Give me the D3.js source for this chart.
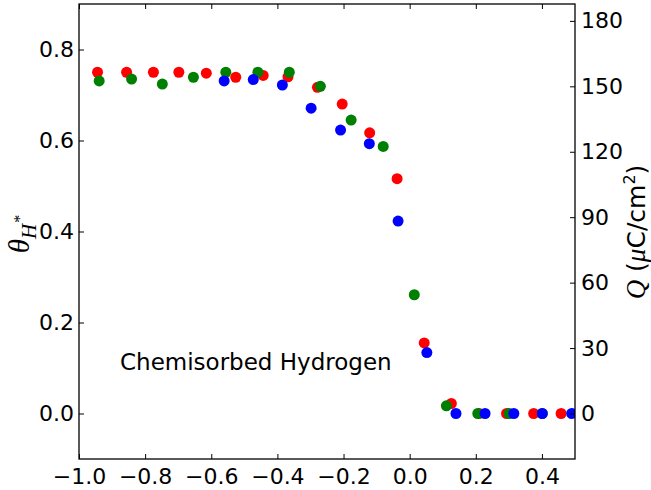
<!DOCTYPE html>
<html>
<head>
<meta charset="utf-8">
<script src="https://cdn.jsdelivr.net/npm/d3@7"></script>
<style>
  body { margin: 0; background: #fff; }
  svg text { font-family: "DejaVu Sans", sans-serif; }
</style>
</head>
<body>
<svg id="chart" width="651" height="490"></svg>
<script>
// potential (x) vs. coverage theta, three runs
var redX = [-0.944, -0.856, -0.775, -0.698, -0.615, -0.526, -0.443, -0.368, -0.279, -0.204, -0.121, -0.038, 0.044, 0.126, 0.210, 0.293, 0.375, 0.458];
var redTheta = [0.750, 0.750, 0.750, 0.750, 0.748, 0.739, 0.743, 0.740, 0.717, 0.680, 0.617, 0.516, 0.155, 0.022, 0, 0, 0, 0];

var greenX = [-0.939, -0.841, -0.748, -0.654, -0.556, -0.459, -0.364, -0.270, -0.177, -0.080, 0.014, 0.111, 0.206, 0.301, 0.401];
var greenTheta = [0.731, 0.735, 0.724, 0.739, 0.750, 0.750, 0.750, 0.719, 0.645, 0.587, 0.261, 0.017, 0, 0, 0];

var blueX = [-0.561, -0.473, -0.385, -0.298, -0.209, -0.122, -0.035, 0.052, 0.140, 0.228, 0.315, 0.401, 0.490];
var blueTheta = [0.731, 0.734, 0.722, 0.671, 0.623, 0.593, 0.423, 0.134, 0, 0, 0, 0, 0];

var xTicks = [-1.0, -0.8, -0.6, -0.4, -0.2, 0.0, 0.2, 0.4];
var thetaTicks = [0.0, 0.2, 0.4, 0.6, 0.8];
var qTicks = [0, 30, 60, 90, 120, 150, 180];

// charge per unit coverage, uC/cm2
var qPerTheta = 208.6;

(function() {
    var svg = d3.select('#chart');
    var mLeft = 79, mRight = 575, mTop = 4, mBottom = 459;

    var x = d3.scaleLinear().domain([-1.0, 0.5]).range([mLeft, mRight]);
    var y = d3.scaleLinear().domain([-0.1, 0.9]).range([mBottom, mTop]);
    var yQ = d3.scaleLinear().domain([-0.1 * qPerTheta, 0.9 * qPerTheta]).range([mBottom, mTop]);

    svg.append('defs').append('clipPath').attr('id', 'plotclip')
        .append('rect')
        .attr('x', mLeft).attr('y', mTop)
        .attr('width', mRight - mLeft).attr('height', mBottom - mTop);

    var series = [
        {xs: redX, ys: redTheta, color: '#ff0000'},
        {xs: greenX, ys: greenTheta, color: '#008000'},
        {xs: blueX, ys: blueTheta, color: '#0000ff'}
    ];

    var dots = svg.append('g').attr('clip-path', 'url(#plotclip)');
    series.forEach(function(s) {
        dots.append('g').selectAll('circle')
            .data(d3.range(s.xs.length))
            .enter().append('circle')
            .attr('cx', function(i) { return x(s.xs[i]); })
            .attr('cy', function(i) { return y(s.ys[i]); })
            .attr('r', 5.5)
            .attr('fill', s.color);
    });

    function styleAxis(g) {
        g.select('.domain').remove();
        g.selectAll('.tick line').attr('stroke', '#000').attr('stroke-width', 1);
        g.selectAll('.tick text').attr('fill', '#000').style('font-size', '22px');
    }

    svg.append('g')
        .attr('transform', 'translate(0,' + mBottom + ')')
        .call(d3.axisBottom(x).tickValues(xTicks).tickFormat(d3.format('.1f'))
            .tickSizeInner(-5).tickSizeOuter(0).tickPadding(9))
        .call(styleAxis);

    svg.append('g')
        .attr('transform', 'translate(0,' + mTop + ')')
        .call(d3.axisTop(x).tickValues(xTicks).tickFormat('')
            .tickSizeInner(-5).tickSizeOuter(0))
        .call(styleAxis);

    svg.append('g')
        .attr('transform', 'translate(' + mLeft + ',0)')
        .call(d3.axisLeft(y).tickValues(thetaTicks).tickFormat(d3.format('.1f'))
            .tickSizeInner(-5).tickSizeOuter(0).tickPadding(5))
        .call(styleAxis);

    svg.append('g')
        .attr('transform', 'translate(' + mRight + ',0)')
        .call(d3.axisRight(yQ).tickValues(qTicks).tickFormat(d3.format('d'))
            .tickSizeInner(-5).tickSizeOuter(0).tickPadding(6))
        .call(styleAxis);

    // frame
    svg.append('rect')
        .attr('x', mLeft).attr('y', mTop)
        .attr('width', mRight - mLeft).attr('height', mBottom - mTop)
        .attr('fill', 'none').attr('stroke', '#000').attr('stroke-width', 1.3);

    // annotation
    svg.append('text')
        .attr('x', 120).attr('y', 370)
        .style('font-size', '23px')
        .text('Chemisorbed Hydrogen');

    // left label: theta_{H*}
    var yl = svg.append('text')
        .attr('transform', 'translate(29,234) rotate(-90)')
        .attr('text-anchor', 'middle')
        .style('font-family', '"Liberation Serif", serif')
        .style('font-style', 'italic')
        .style('font-size', '29px');
    yl.append('tspan').text('θ');
    yl.append('tspan').attr('dy', 7).style('font-size', '21px').text('H');
    yl.append('tspan').attr('dx', 1).attr('dy', -11).style('font-size', '16px').style('font-style', 'normal').text('*');

    // right label: Q (uC/cm^2)
    var ql = svg.append('text')
        .attr('transform', 'translate(645,232) rotate(-90)')
        .attr('text-anchor', 'middle')
        .style('font-size', '25px');
    ql.append('tspan').style('font-family', '"Liberation Serif", serif').style('font-style', 'italic').style('font-size', '27px').text('Q');
    ql.append('tspan').text(' (');
    ql.append('tspan').style('font-family', '"Liberation Serif", serif').style('font-style', 'italic').style('font-size', '27px').text('μ');
    ql.append('tspan').text('C/cm');
    ql.append('tspan').attr('dy', -10).style('font-size', '16px').text('2');
    ql.append('tspan').attr('dy', 10).text(')');
})();
</script>
</body>
</html>
